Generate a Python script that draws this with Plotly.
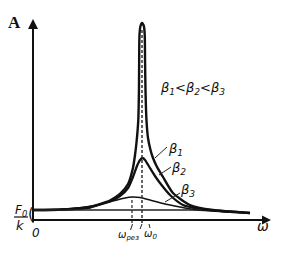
import plotly.graph_objects as go

# Resonance curves: omega in units of omega0, amplitude A in units of F0/k
w_b1 = [0.0, 0.275, 0.523, 0.587, 0.706, 0.798, 0.872, 0.917, 0.936, 0.950, 0.966, 0.972, 0.974, 0.977,
        0.986, 1.0, 1.017,
        1.025, 1.028, 1.032, 1.041, 1.055, 1.078, 1.101, 1.138, 1.193, 1.284, 1.440, 1.651, 1.991]
A_b1 = [1.0, 1.05, 1.3, 1.5, 1.95, 2.6, 3.6, 5.2, 6.5, 7.8, 10.0, 13.0, 16.0, 18.5,
        19.4, 19.7, 19.4,
        18.5, 16.0, 13.0, 10.0, 8.2, 7.0, 6.2, 5.3, 4.3, 2.7, 1.5, 1.0, 0.7]

w_b2 = [0.0, 0.275, 0.523, 0.587, 0.706, 0.798, 0.872, 0.917, 0.954, 0.982, 1.005, 1.028, 1.073,
        1.119, 1.165, 1.257, 1.376, 1.532, 1.651, 1.991]
A_b2 = [1.0, 1.05, 1.25, 1.45, 1.85, 2.4, 3.2, 4.3, 5.4, 6.0, 6.2, 6.0, 5.2,
        4.4, 3.7, 2.5, 1.5, 1.1, 0.95, 0.7]

w_b3 = [0.0, 0.275, 0.431, 0.587, 0.752, 0.844, 0.908, 0.982, 1.073, 1.193, 1.349, 1.505, 1.651, 1.991]
A_b3 = [1.0, 1.08, 1.22, 1.5, 1.95, 2.2, 2.3, 2.25, 2.0, 1.65, 1.3, 1.0, 0.9, 0.7]

w_res = 0.908
w_0 = 1.0
A_res = 2.3
A_peak = 19.6

labels = ["β<sub>1</sub>", "β<sub>2</sub>", "β<sub>3</sub>"]

# pixel helpers for text placement (figure 293x257, zero margins)
def X(px):
    return (px - 33) / 109.0

def Y(py):
    return (220 - py) / 10.0

fig = go.Figure()
for w, A, lw in [(w_b1, A_b1, 2.4), (w_b2, A_b2, 2.3), (w_b3, A_b3, 1.5)]:
    fig.add_trace(go.Scatter(x=w, y=A, mode="lines",
                             line=dict(color="#111", width=lw, shape="spline", smoothing=0.6),
                             hoverinfo="skip", showlegend=False))

# baseline F0/k
fig.add_trace(go.Scatter(x=[0, 1.55], y=[1.0, 1.0], mode="lines",
                         line=dict(color="#222", width=1.3), showlegend=False, hoverinfo="skip"))
# dashed verticals
fig.add_trace(go.Scatter(x=[w_0, w_0], y=[Y(223), A_peak - 0.4], mode="lines",
                         line=dict(color="#333", width=1.5, dash="3px,2px"), showlegend=False, hoverinfo="skip"))
fig.add_trace(go.Scatter(x=[w_res, w_res], y=[Y(223), A_res], mode="lines",
                         line=dict(color="#333", width=1.3, dash="3px,2px"), showlegend=False, hoverinfo="skip"))

shapes = []
def seg(x0, y0, x1, y1, w=1.0):
    shapes.append(dict(type="line", x0=X(x0), y0=Y(y0), x1=X(x1), y1=Y(y1),
                       line=dict(color="#222", width=w)))

# fraction bar for F0/k
seg(14, 217, 28, 217, 1.3)
# leader lines to beta labels
seg(155, 158, 167, 147)
seg(159, 175, 171, 167)
seg(165, 202, 180, 193)
# small ticks under omega labels
seg(132.5, 224, 130.5, 230)
seg(142, 224, 140, 229)
seg(149, 224, 150, 228)

annotations = [
    # axes with arrows
    dict(x=X(33), y=Y(19), ax=X(33), ay=Y(224), xref="x", yref="y", axref="x", ayref="y",
         showarrow=True, arrowhead=2, arrowsize=1.0, arrowwidth=2, arrowcolor="#111", text=""),
    dict(x=X(271), y=Y(220), ax=X(32), ay=Y(220), xref="x", yref="y", axref="x", ayref="y",
         showarrow=True, arrowhead=2, arrowsize=1.0, arrowwidth=1.8, arrowcolor="#111", text=""),
]

def txt(t, px, py, size=13, style="italic", weight="normal", family="DejaVu Sans"):
    annotations.append(dict(x=X(px), y=Y(py), text=t, showarrow=False, xref="x", yref="y",
                            font=dict(size=size, color="#111", family=family, style=style, weight=weight),
                            xanchor="center", yanchor="middle"))

txt("A", 14, 22, size=17, style="normal", weight="bold", family="Liberation Serif")
txt("β<sub>1</sub>&lt;β<sub>2</sub>&lt;β<sub>3</sub>", 192, 88, size=13)
txt(labels[0], 175, 149, size=13)
txt(labels[1], 178, 168, size=13)
txt(labels[2], 187, 190, size=13)
txt("F<sub>0</sub>", 21, 211, size=12)
txt("k", 20, 225, size=13)
txt("(", 30.5, 214, size=15, style="normal")
txt("0", 36, 233, size=12)
txt("ω", 263, 226, size=14)
txt("ω<sub>рез</sub>", 128, 235, size=10)
txt("ω<sub>0</sub>", 150, 234, size=10)

fig.update_layout(
    width=293, height=257,
    margin=dict(l=0, r=0, t=0, b=0),
    paper_bgcolor="white", plot_bgcolor="white",
    xaxis=dict(range=[X(0), X(293)], visible=False, fixedrange=True),
    yaxis=dict(range=[Y(257), Y(0)], visible=False, fixedrange=True),
    shapes=shapes, annotations=annotations,
    showlegend=False,
)

fig.write_html("out.html")
